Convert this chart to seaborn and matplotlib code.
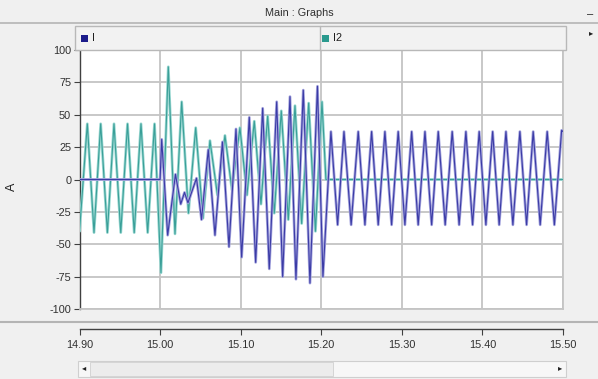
import numpy as np
import pandas as pd
import matplotlib
matplotlib.use("Agg")
import matplotlib.pyplot as plt
import seaborn as sns
from matplotlib.patches import Rectangle
from matplotlib.lines import Line2D

# ---------------- data (extrema) ----------------
series_names = ["I", "I2"]
x_ticks = [14.90, 15.00, 15.10, 15.20, 15.30, 15.40, 15.50]
x_tick_labels = ["14.90", "15.00", "15.10", "15.20", "15.30", "15.40", "15.50"]
y_ticks = [-100, -75, -50, -25, 0, 25, 50, 75, 100]

I_time = [14.9000, 15.0000, 15.0020, 15.0094, 15.0191, 15.0256, 15.0303, 15.0346,
          15.0452, 15.0514, 15.0598, 15.0681, 15.0774, 15.0855, 15.0942, 15.1012,
          15.1107, 15.1186, 15.1273, 15.1355, 15.1447, 15.1521, 15.1612, 15.1686,
          15.1777, 15.1860, 15.1953, 15.2021, 15.2120, 15.2203, 15.2282, 15.2371,
          15.2459, 15.2542, 15.2625, 15.2707, 15.2790, 15.2873, 15.2955, 15.3038,
          15.3122, 15.3203, 15.3287, 15.3370, 15.3452, 15.3538, 15.3625, 15.3711,
          15.3795, 15.3878, 15.3960, 15.4043, 15.4127, 15.4208, 15.4292, 15.4378,
          15.4465, 15.4548, 15.4630, 15.4717, 15.4804, 15.4893, 15.4983, 15.5000]
I_vals = [0, 0, 31, -43, 4, -19, -10, -18,
          1, -31, 23, -43, 29, -52, 39, -60,
          48, -64, 55, -69, 60, -75, 64, -77,
          69, -80, 72, -75, 37, -35, 37, -35,
          37, -35, 37, -35, 37, -35, 37, -35,
          37, -35, 37, -35, 37, -35, 37, -35,
          37, -35, 37, -35, 37, -35, 37, -35,
          37, -35, 37, -35, 37, -35, 38, 37]

I2_time = [14.9000, 14.9097, 14.9180, 14.9263, 14.9346, 14.9428, 14.9512, 14.9596,
           14.9679, 14.9763, 14.9846, 14.9931, 15.0011, 15.0102, 15.0185, 15.0268,
           15.0352, 15.0442, 15.0532, 15.0619, 15.0712, 15.0805, 15.0892, 15.0991,
           15.1078, 15.1169, 15.1252, 15.1335, 15.1417, 15.1504, 15.1591, 15.1674,
           15.1757, 15.1844, 15.1928, 15.2009, 15.2058, 15.5000]
I2_vals = [-40, 43, -41, 43, -41, 43, -41, 43,
           -41, 43, -41, 43, -72, 87, -42, 60,
           -26, 40, -30, 30, -12, 34, -8, 40,
           -12, 45, -19, 49, -26, 53, -31, 57,
           -34, 59, -40, 60, 0, 0]

# ---------------- styling ----------------
sns.set_theme(style="white")
plt.rcParams["font.family"] = ["Liberation Sans", "DejaVu Sans"]

W, H = 598, 379
fig = plt.figure(figsize=(W / 100, H / 100), dpi=100)
BG = "#f0f0f0"
fig.patch.set_facecolor(BG)


def fx(px):
    return px / W


def fy(py):
    return 1 - py / H


PL, PR, PT, PB = 79.5, 563.0, 50.0, 309.0

# title bar
fig.text(fx(299), fy(13), "Main : Graphs", ha="center", va="center",
         fontsize=7.8, color="#303030")
fig.add_artist(Line2D([0, 1], [fy(23), fy(23)], color="#b4b4b4", lw=1.2))
fig.text(fx(590), fy(14), "\u2013", ha="center", va="center", fontsize=8, color="#202020")
fig.text(fx(591), fy(34), "\u25b8", ha="center", va="center", fontsize=6, color="#202020")

# legend bar
fig.add_artist(Rectangle((fx(75), fy(PT)), fx(566) - fx(75), fy(26) - fy(PT),
                         transform=fig.transFigure, facecolor="#f2f2f2",
                         edgecolor="#b8b8b8", lw=1.0))
fig.add_artist(Line2D([fx(320), fx(320)], [fy(PT), fy(26)], color="#b8b8b8", lw=1.0))
legend_colors = ["#1b1b8a", "#2a9a8e"]
for xs, name, col in zip([85, 326], series_names, legend_colors):
    fig.add_artist(Rectangle((fx(xs) - 0.0065, fy(38) - 0.011), 0.012, 0.019,
                             transform=fig.transFigure, facecolor=col, edgecolor="none"))
    fig.text(fx(xs + 7), fy(38), name, ha="left", va="center", fontsize=7.8, color="#202020")

# main axes
ax = fig.add_axes([fx(PL), fy(PB), fx(PR) - fx(PL), fy(PT) - fy(PB)])
ax.set_facecolor("white")

dfI = pd.DataFrame({"t": I_time, "A": I_vals})
dfI2 = pd.DataFrame({"t": I2_time, "A": I2_vals})

sns.lineplot(data=dfI2, x="t", y="A", ax=ax, color="#9ad8d2", lw=2.0,
             estimator=None, sort=False, zorder=3)
sns.lineplot(data=dfI2, x="t", y="A", ax=ax, color="#3a9f98", lw=0.8,
             estimator=None, sort=False, zorder=4)
sns.lineplot(data=dfI, x="t", y="A", ax=ax, color="#a6a6de", lw=2.0,
             estimator=None, sort=False, zorder=5)
sns.lineplot(data=dfI, x="t", y="A", ax=ax, color="#3b3ba6", lw=0.8,
             estimator=None, sort=False, zorder=6)

ax.set_xlim(x_ticks[0], x_ticks[-1])
ax.set_ylim(-100, 100)
ax.set_xticks(x_ticks)
ax.set_xticklabels([])
ax.set_yticks(y_ticks)
ax.set_yticklabels([str(v) for v in y_ticks], fontsize=7.8, color="#303030")
ax.tick_params(axis="x", length=0, bottom=False)
ax.tick_params(axis="y", left=True, length=4, width=0.8, color="#404040", pad=2,
               direction="out")
ax.grid(True, color="#c4c4c4", lw=1.3)
ax.set_axisbelow(True)
for s in ["top", "right", "bottom"]:
    ax.spines[s].set_color("#c4c4c4")
    ax.spines[s].set_linewidth(1.3)
ax.spines["left"].set_color("#404040")
ax.spines["left"].set_linewidth(1.0)
ax.set_xlabel("")
ax.set_ylabel("")
leg = ax.get_legend()
if leg is not None:
    leg.remove()

fig.text(fx(12), fy(187), "A", rotation=90, ha="center", va="center",
         fontsize=9, color="#202020")

# separator below plot
fig.add_artist(Line2D([0, 1], [fy(322), fy(322)], color="#b4b4b4", lw=1.5))

# x axis strip
ax2 = fig.add_axes([fx(PL), fy(329), fx(PR) - fx(PL), 0.0005])
ax2.set_facecolor("none")
ax2.set_xlim(x_ticks[0], x_ticks[-1])
ax2.set_ylim(0, 1)
ax2.set_yticks([])
ax2.set_xticks(x_ticks)
ax2.set_xticklabels(x_tick_labels, fontsize=7.8, color="#303030")
ax2.tick_params(axis="x", bottom=True, length=4, width=0.8, color="#404040", pad=4,
                direction="out")
for s in ["top", "right", "left"]:
    ax2.spines[s].set_visible(False)
ax2.spines["bottom"].set_color("#404040")
ax2.spines["bottom"].set_linewidth(1.0)

# scrollbar
fig.add_artist(Rectangle((fx(78), fy(377)), fx(566) - fx(78), fy(361) - fy(377),
                         transform=fig.transFigure, facecolor="#f7f7f7",
                         edgecolor="#cfcfcf", lw=0.8))
fig.add_artist(Rectangle((fx(90), fy(376)), fx(333) - fx(90), fy(362) - fy(376),
                         transform=fig.transFigure, facecolor="#ececec",
                         edgecolor="#d0d0d0", lw=0.6))
fig.text(fx(84), fy(369), "\u25c2", ha="center", va="center", fontsize=6, color="#202020")
fig.text(fx(560), fy(369), "\u25b8", ha="center", va="center", fontsize=6, color="#202020")

fig.savefig("out.png", dpi=100, facecolor=BG)
